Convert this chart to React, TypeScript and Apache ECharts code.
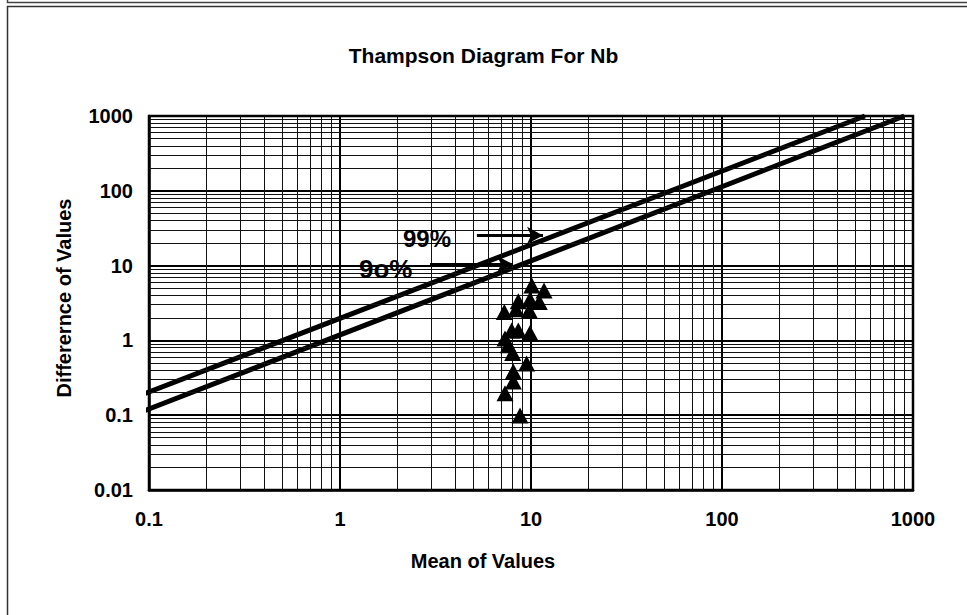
import React, { useEffect, useRef } from "react";
import * as echarts from "echarts";

// Sample points (mean of values, difference of values)
const meanValues = [10.1, 11.7, 8.58, 9.88, 11.05, 7.25, 8.35, 9.8, 7.92, 8.58, 9.88, 7.31, 7.6, 8.02, 9.49, 8.08, 8.08, 7.31, 8.76];
const diffValues = [5.44, 4.66, 3.34, 3.53, 3.25, 2.39, 2.6, 2.52, 1.36, 1.36, 1.26, 1.06, 0.86, 0.68, 0.49, 0.385, 0.283, 0.196, 0.099];

// Precision control lines (endpoints)
const line99X = [0.09, 560];
const line99Y = [0.184, 1000];
const line90X = [0.09, 900];
const line90Y = [0.109, 1000];

// Annotation arrows (data coordinates)
const arrow99X = [5.21, 11.56];
const arrow99Y = 25.3;
const arrow90X = [2.96, 8.05];
const arrow90Y = 10.4;

// Tick labels
const xTickLabels = ["0.1", "1", "10", "100", "1000"];
const yTickLabels = ["0.01", "0.1", "1", "10", "100", "1000"];

// Minor grid positions
const minorSteps = [2, 3, 4, 5, 6, 7, 8, 9];
const xDecades = [0.1, 1, 10, 100];
const yDecades = [0.01, 0.1, 1, 10, 100];

const FONT = "'Liberation Sans', Arial, sans-serif";

export default function App() {
  const ref = useRef<HTMLDivElement>(null);

  useEffect(() => {
    if (!ref.current) return;
    const chart = echarts.init(ref.current, null, { renderer: "svg" });

    const minorX: any[] = [];
    xDecades.forEach((d) => minorSteps.forEach((s) => minorX.push({ xAxis: +(d * s).toPrecision(3) })));
    const minorY: any[] = [];
    yDecades.forEach((d) => minorSteps.forEach((s) => minorY.push({ yAxis: +(d * s).toPrecision(3) })));

    const option: any = {
      animation: false,
      backgroundColor: "#fff",
      textStyle: { fontFamily: FONT },
      title: {
        text: "Thampson Diagram For Nb",
        left: "center",
        top: 40,
        textStyle: { fontFamily: FONT, fontSize: 21, fontWeight: "bold", color: "#000" },
      },
      grid: {
        left: 149,
        top: 116,
        right: 54,
        bottom: 125,
        show: true,
        borderColor: "#000",
        borderWidth: 2.5,
        backgroundColor: "transparent",
      },
      xAxis: {
        type: "log",
        logBase: 10,
        min: 0.1,
        max: 1000,
        name: "Mean of Values",
        nameLocation: "middle",
        nameGap: 61,
        nameTextStyle: {
          fontFamily: FONT,
          fontSize: 20,
          fontWeight: "bold",
          color: "#000",
          padding: [0, 96, 0, 0],
        },
        axisLine: { show: true, lineStyle: { color: "#000", width: 2.5 } },
        axisTick: { show: false },
        axisLabel: {
          margin: 19,
          fontFamily: FONT,
          fontSize: 20,
          fontWeight: "bold",
          color: "#000",
          formatter: (v: number) => xTickLabels[Math.round(Math.log10(v)) + 1] ?? "",
        },
        splitLine: { show: true, lineStyle: { color: "#000", width: 2 } },
      },
      yAxis: {
        type: "log",
        logBase: 10,
        min: 0.01,
        max: 1000,
        name: "Differernce of Values",
        nameLocation: "middle",
        nameGap: 75,
        nameRotate: 90,
        nameTextStyle: {
          fontFamily: FONT,
          fontSize: 20,
          fontWeight: "bold",
          color: "#000",
          padding: [0, 0, 0, 10],
        },
        axisLine: { show: true, lineStyle: { color: "#000", width: 2.5 } },
        axisTick: { show: false },
        axisLabel: {
          margin: 16,
          fontFamily: FONT,
          fontSize: 20,
          fontWeight: "bold",
          color: "#000",
          formatter: (v: number) => yTickLabels[Math.round(Math.log10(v)) + 2] ?? "",
        },
        splitLine: { show: true, lineStyle: { color: "#000", width: 2 } },
      },
      series: [
        {
          name: "minor grid",
          type: "line",
          data: [],
          silent: true,
          z: 1,
          markLine: {
            silent: true,
            symbol: "none",
            animation: false,
            label: { show: false },
            emphasis: { disabled: true },
            lineStyle: { type: "solid", color: "#111", width: 1 },
            data: [...minorX, ...minorY],
          },
        },
        {
          name: "99%",
          type: "line",
          data: line99X.map((x, i) => [x, line99Y[i]]),
          symbol: "none",
          clip: false,
          z: 3,
          lineStyle: { color: "#000", width: 5 },
        },
        {
          name: "90%",
          type: "line",
          data: line90X.map((x, i) => [x, line90Y[i]]),
          symbol: "none",
          clip: false,
          z: 3,
          lineStyle: { color: "#000", width: 5 },
        },
        {
          name: "arrows",
          type: "line",
          data: [],
          silent: true,
          z: 4,
          markLine: {
            silent: true,
            symbol: ["none", "arrow"],
            symbolSize: [13, 16],
            animation: false,
            label: { show: false },
            emphasis: { disabled: true },
            lineStyle: { type: "solid", color: "#000", width: 3 },
            data: [
              [{ coord: [arrow99X[0], arrow99Y] }, { coord: [arrow99X[1], arrow99Y] }],
              [{ coord: [arrow90X[0], arrow90Y] }, { coord: [arrow90X[1], arrow90Y] }],
            ],
          },
        },
        {
          name: "Samples",
          type: "scatter",
          symbol: "triangle",
          symbolSize: [17, 16],
          z: 5,
          itemStyle: { color: "#000", opacity: 1 },
          data: meanValues.map((x, i) => [x, diffValues[i]]),
        },
      ],
      graphic: [
        {
          type: "rect",
          shape: { x: 7.5, y: -10, width: 990, height: 12.5 },
          style: { fill: "none", stroke: "#444", lineWidth: 1.5 },
          silent: true,
        },
        {
          type: "rect",
          shape: { x: 7.5, y: 6.5, width: 990, height: 700 },
          style: { fill: "none", stroke: "#333", lineWidth: 1.5 },
          silent: true,
        },
        {
          type: "text",
          x: 403,
          y: 238,
          z: 10,
          style: { text: "99%", fontFamily: FONT, fontSize: 24, fontWeight: "bold", fill: "#000", verticalAlign: "middle" },
        },
        {
          type: "text",
          x: 359,
          y: 269,
          z: 10,
          style: { text: "9o%", fontFamily: FONT, fontSize: 26, fontWeight: "bold", fill: "#000", verticalAlign: "middle" },
        },
      ],
    };

    chart.setOption(option);
    return () => chart.dispose();
  }, []);

  return (
    <div
      ref={ref}
      style={{ position: "absolute", left: 0, top: 0, width: 967, height: 615, background: "#fff" }}
    />
  );
}
